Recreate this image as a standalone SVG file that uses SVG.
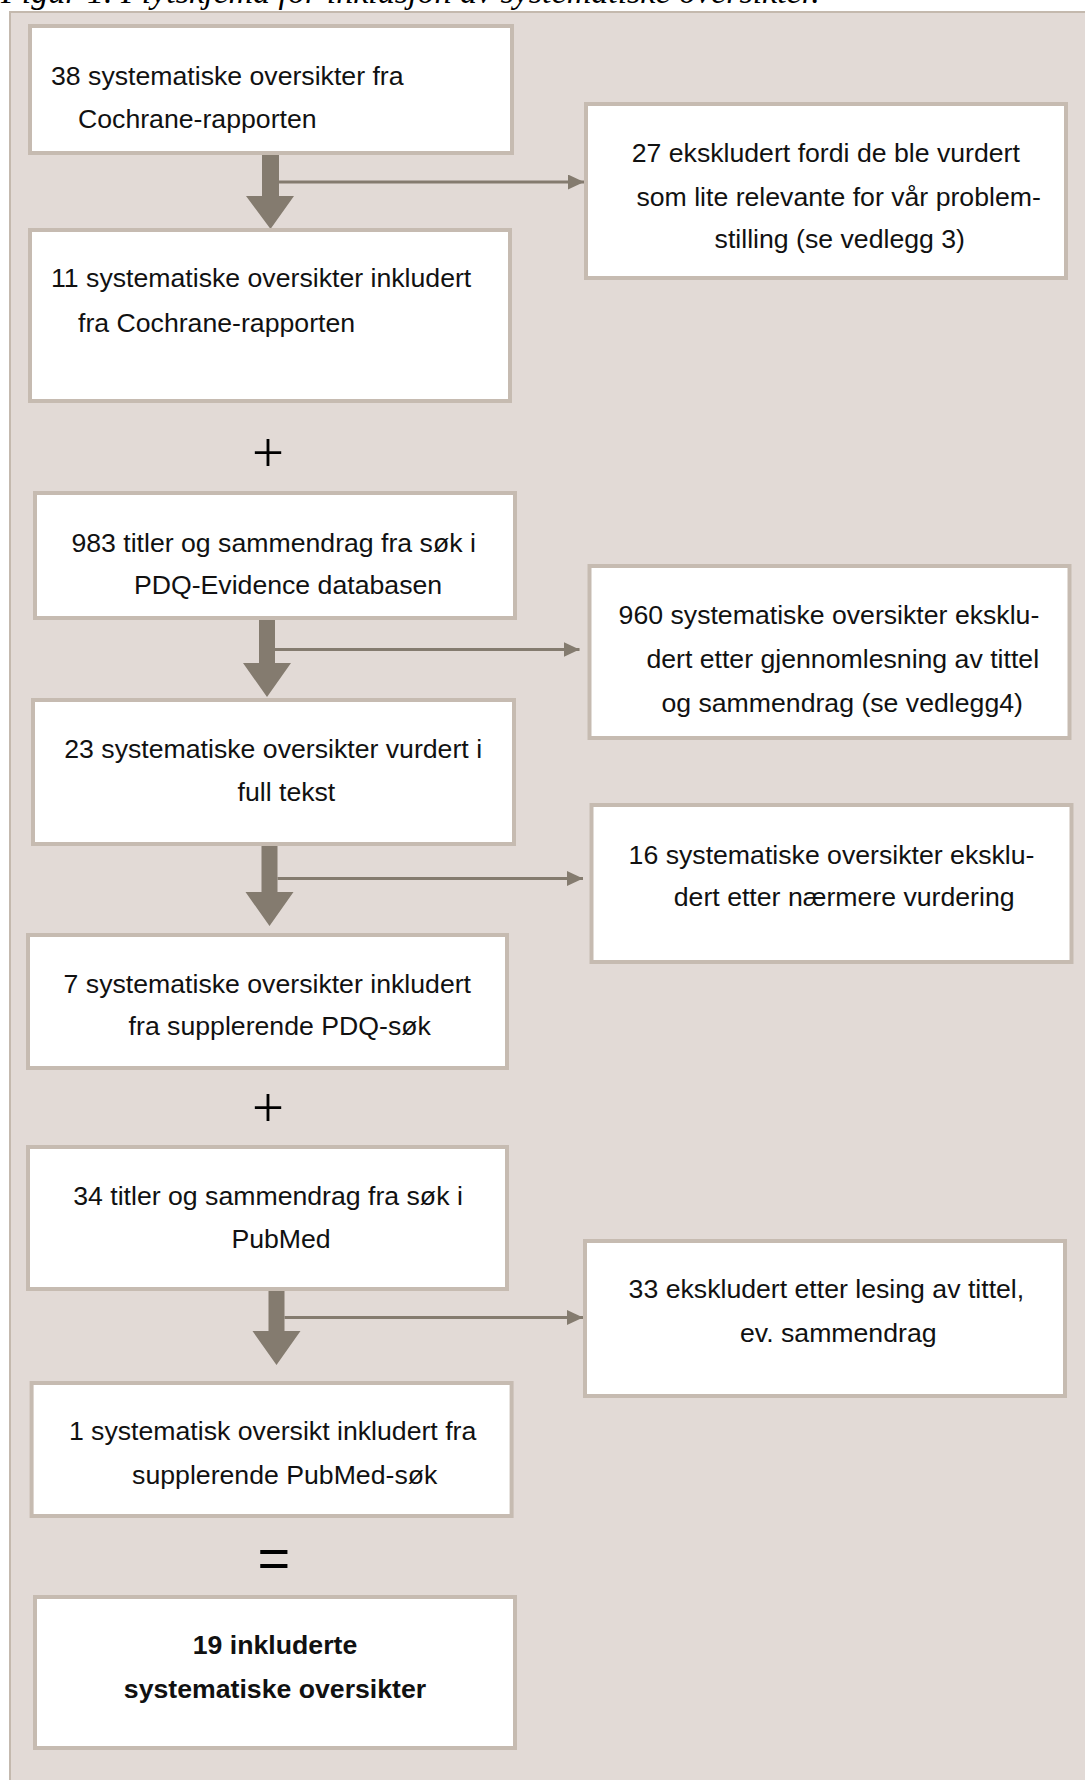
<svg xmlns="http://www.w3.org/2000/svg" width="1085" height="1780" viewBox="0 0 1085 1780">
<defs>
<style>
.panel{fill:#e2dad6;stroke:#c4b9ae;stroke-width:2}
.box{fill:#ffffff;stroke:#c6bbb1;stroke-width:4}
.t{font-family:"Liberation Sans",Arial,sans-serif;font-size:26.67px;fill:#111}
.b{font-weight:bold}
.big{fill:#847b6f}
.side{stroke:#847b6f;stroke-width:3;fill:none}
.cap{font-family:"Liberation Serif","Times New Roman",serif;font-style:italic;font-size:34px;fill:#000}
.plus{font-family:"Liberation Serif","Times New Roman",serif;font-size:56.7px;fill:#000;text-anchor:middle}
.eq{font-family:"Liberation Sans",Arial,sans-serif;font-size:56px;fill:#000;text-anchor:middle}
</style>
<marker id="ah" markerUnits="userSpaceOnUse" markerWidth="16" markerHeight="15" refX="16" refY="7.5" orient="auto">
<path d="M0,0 L16,7.5 L0,15 Z" fill="#847b6f"/>
</marker>
</defs>
<rect x="0" y="0" width="1085" height="1780" fill="#ffffff"/>
<text class="cap" x="1" y="3">Figur 1. Flytskjema for inklusjon av systematiske oversikter.</text>
<rect class="panel" x="10" y="12" width="1090" height="1790"/>

<g id="connectors">
<path class="big" d="M262,155 H279 V196 H294 L270.5,229 L246,196 H262 Z"/>
<line class="side" x1="279" y1="182" x2="584" y2="182" marker-end="url(#ah)"/>
<path class="big" d="M259,620 H275 V663 H291 L267,697 L243,663 H259 Z"/>
<line class="side" x1="275" y1="649.5" x2="579.5" y2="649.5" marker-end="url(#ah)"/>
<path class="big" d="M261.5,846 H277.5 V892 H293.5 L269.5,926 L245.5,892 H261.5 Z"/>
<line class="side" x1="277.5" y1="878.5" x2="583" y2="878.5" marker-end="url(#ah)"/>
<path class="big" d="M268.5,1291 H284.5 V1331 H300.5 L276.5,1365 L252.5,1331 H268.5 Z"/>
<line class="side" x1="284.5" y1="1317.5" x2="583" y2="1317.5" marker-end="url(#ah)"/>
</g>

<g id="n1"><rect class="box" x="30" y="26" width="482" height="127"/>
<text class="t" x="51" y="85">38 systematiske oversikter fra</text>
<text class="t" x="78" y="128">Cochrane-rapporten</text></g>

<g id="n2"><rect class="box" x="30" y="230" width="480" height="171"/>
<text class="t" x="51" y="287">11 systematiske oversikter inkludert</text>
<text class="t" x="78" y="331.5">fra Cochrane-rapporten</text></g>

<g id="r1"><rect class="box" x="586" y="104" width="480" height="174"/>
<text class="t" x="631.7" y="161.5">27 ekskludert fordi de ble vurdert</text>
<text class="t" x="636.4" y="206">som lite relevante for vår problem-</text>
<text class="t" x="714.6" y="248">stilling (se vedlegg 3)</text></g>

<text class="plus" x="268" y="472">+</text>

<g id="n3"><rect class="box" x="35" y="493" width="480" height="125"/>
<text class="t" x="71.4" y="551.5">983 titler og sammendrag fra søk i</text>
<text class="t" x="133.9" y="594">PDQ-Evidence databasen</text></g>

<g id="r2"><rect class="box" x="589.5" y="566" width="480" height="172"/>
<text class="t" x="618.6" y="623.5">960 systematiske oversikter eksklu-</text>
<text class="t" x="646.4" y="668">dert etter gjennomlesning av tittel</text>
<text class="t" x="661.4" y="712">og sammendrag (se vedlegg4)</text></g>

<g id="n4"><rect class="box" x="33" y="700" width="481" height="144"/>
<text class="t" x="64.3" y="757.5">23 systematiske oversikter vurdert i</text>
<text class="t" x="237.5" y="801">full tekst</text></g>

<g id="r3"><rect class="box" x="591.5" y="805" width="480" height="157"/>
<text class="t" x="628.6" y="863.5">16 systematiske oversikter eksklu-</text>
<text class="t" x="673.8" y="906">dert etter nærmere vurdering</text></g>

<g id="n5"><rect class="box" x="28" y="935" width="479" height="133"/>
<text class="t" x="63.6" y="992.5">7 systematiske oversikter inkludert</text>
<text class="t" x="128.6" y="1035">fra supplerende PDQ-søk</text></g>

<text class="plus" x="268" y="1127">+</text>

<g id="n6"><rect class="box" x="28" y="1147" width="479" height="142"/>
<text class="t" x="73.2" y="1205">34 titler og sammendrag fra søk i</text>
<text class="t" x="231.4" y="1248">PubMed</text></g>

<g id="r4"><rect class="box" x="585" y="1241" width="480" height="155"/>
<text class="t" x="628.6" y="1298">33 ekskludert etter lesing av tittel,</text>
<text class="t" x="740" y="1341.5">ev. sammendrag</text></g>

<g id="n7"><rect class="box" x="31.6" y="1383" width="480" height="133"/>
<text class="t" x="68.9" y="1440">1 systematisk oversikt inkludert fra</text>
<text class="t" x="132.1" y="1484">supplerende PubMed-søk</text></g>

<text class="eq" x="273.8" y="1577">=</text>

<g id="n8"><rect class="box" x="35" y="1597" width="480" height="151"/>
<text class="t b" x="275" y="1654" text-anchor="middle">19 inkluderte</text>
<text class="t b" x="275" y="1698" text-anchor="middle">systematiske oversikter</text></g>
</svg>
